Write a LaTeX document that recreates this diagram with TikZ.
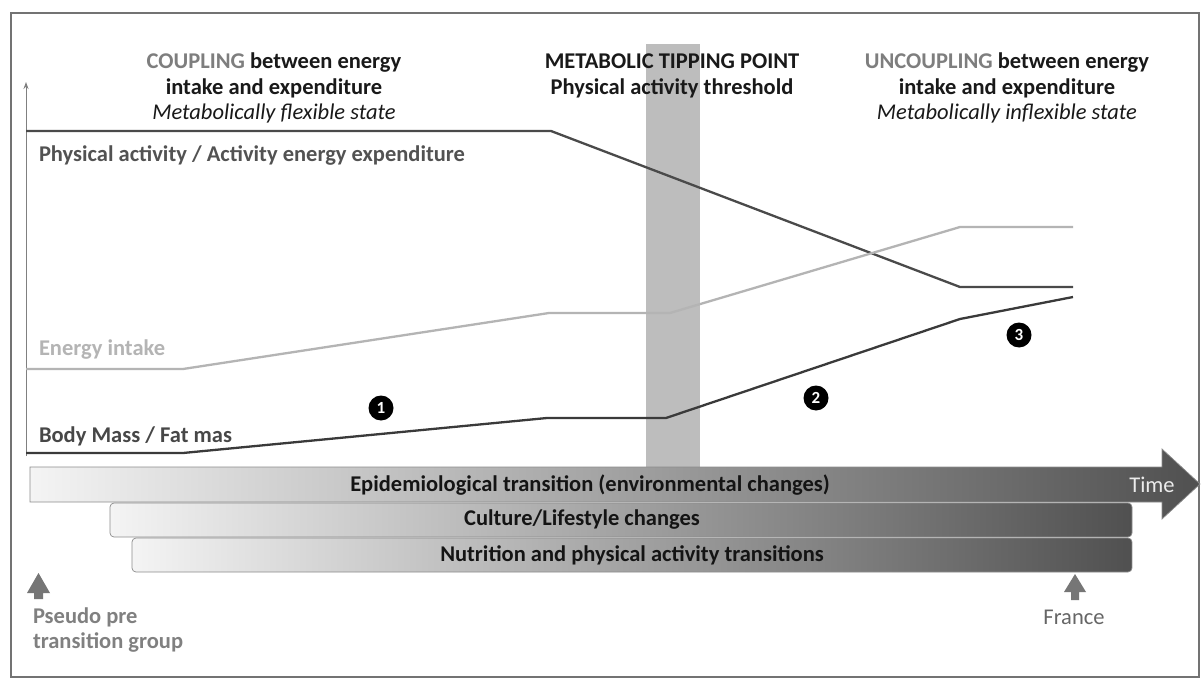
\documentclass[tikz,border=0pt]{standalone}
\usepackage{fontspec}
\setmainfont{Carlito}
\usetikzlibrary{arrows.meta,positioning}
\definecolor{pagray}{HTML}{4A4A4A}
\definecolor{eigray}{HTML}{B4B4B4}
\definecolor{bmgray}{HTML}{3A3A3A}
\definecolor{bandgray}{HTML}{BDBDBD}
\definecolor{hdgray}{HTML}{7E7E7E}
\definecolor{bargray}{HTML}{505050}
\definecolor{barlight}{HTML}{F4F4F4}
\definecolor{arrgray}{HTML}{767676}
\begin{document}
\begin{tikzpicture}[x=1pt,y=-1pt,
  every node/.style={inner sep=0pt,outer sep=0pt},
  hdr/.style={align=center,font=\fontsize{22.5}{25.5}\selectfont,text=black!90},
  lbl/.style={anchor=west,font=\fontsize{22.5}{25}\selectfont\bfseries},
  dataline/.style={line width=2.3pt,line join=round},
  numdot/.style={circle,fill=black,minimum size=25pt,text=white,font=\fontsize{17}{17}\selectfont\bfseries},
  barbox/.style={draw=black!45,line width=0.7pt,left color=barlight,right color=bargray},
  bartext/.style={font=\fontsize{22.5}{25}\selectfont\bfseries,text=black!92},
  uparrow/.style={fill=arrgray,draw=none}
]
\useasboundingbox (0,0) rectangle (1202,679);
\fill[white] (0,0) rectangle (1202,679);
% outer frame
\draw[black!55,line width=1.4pt] (11,13) rectangle (1199,677);

% tipping band
\fill[bandgray] (646,44) rectangle (700,467);

% y axis
\coordinate (ybot) at (26,456);
\coordinate (ytop) at (26,82);
\draw[black!50,line width=1pt,-{Stealth[length=7pt,width=5pt]}] (ybot) -- (ytop);

% headers
\node[hdr] (hcoup) at (274,88) {\textbf{{\color{hdgray}COUPLING} between energy}\\ \textbf{intake and expenditure}\\ \textit{Metabolically flexible state}};
\node[hdr] (htip) at (672,76) {\textbf{METABOLIC TIPPING POINT}\\ \textbf{Physical activity threshold}};
\node[hdr] (hunc) at (1007,88) {\textbf{{\color{hdgray}UNCOUPLING} between energy}\\ \textbf{intake and expenditure}\\ \textit{Metabolically inflexible state}};

% data lines
\coordinate (pa0) at (26,131);
\coordinate (pa1) at (551,131);
\coordinate (pa2) at (960,287);
\coordinate (pa3) at (1073,287);
\draw[dataline,pagray] (pa0) -- (pa1) -- (pa2) -- (pa3);

\coordinate (ei0) at (26,369);
\coordinate (ei1) at (183,369);
\coordinate (ei2) at (549,313);
\coordinate (ei3) at (670,313);
\coordinate (ei4) at (960,227);
\coordinate (ei5) at (1073,227);
\draw[dataline,eigray] (ei0) -- (ei1) -- (ei2) -- (ei3) -- (ei4) -- (ei5);

\coordinate (bm0) at (26,453);
\coordinate (bm1) at (183,453);
\coordinate (bm2) at (547,418);
\coordinate (bm3) at (666,418);
\coordinate (bm4) at (960,319);
\coordinate (bm5) at (1073,297);
\draw[dataline,bmgray] (bm0) -- (bm1) -- (bm2) -- (bm3) -- (bm4) -- (bm5);

% line labels
\node[lbl,text=black!68] (lpa) at (39,155) {Physical activity / Activity energy expenditure};
\node[lbl,text=eigray] (lei) at (39,350) {Energy intake};
\node[lbl,text=black!72] (lbm) at (39,436) {Body Mass / Fat mas};

% numbered dots
\node[numdot] (n1) at (381,408) {1};
\node[numdot] (n2) at (816,398) {2};
\node[numdot] (n3) at (1019,335) {3};

% time arrow
\path[barbox] (30,467) -- (1162,467) -- (1162,449) -- (1200,484) -- (1162,519) -- (1162,502) -- (30,502) -- cycle;
\node[bartext] (epi) at (590,485) {Epidemiological transition (environmental changes)};
\node[font=\fontsize{22.5}{25}\selectfont,text=white!92!black] (time) at (1152,485) {Time};

% bars
\path[barbox,rounded corners=4pt] (110,503) rectangle (1132,537);
\node[bartext] (cult) at (582,520) {Culture/Lifestyle changes};
\path[barbox,rounded corners=4pt] (132,538) rectangle (1132,572);
\node[bartext] (nutr) at (632,555) {Nutrition and physical activity transitions};

% small arrows
\fill[uparrow] (27,593) -- (38.5,573) -- (50,593) -- (43,593) -- (43,599) -- (34,599) -- (34,593) -- cycle;
\fill[uparrow] (1064,592) -- (1075,574) -- (1086,592) -- (1079,592) -- (1079,600) -- (1071,600) -- (1071,592) -- cycle;

\node[anchor=west,align=left,font=\fontsize{22.5}{24.5}\selectfont\bfseries,text=black!50] (pseudo) at (33,630) {Pseudo pre\\transition group};
\node[font=\fontsize{22.5}{25}\selectfont,text=black!60] (france) at (1074,617) {France};
\end{tikzpicture}
\end{document}
